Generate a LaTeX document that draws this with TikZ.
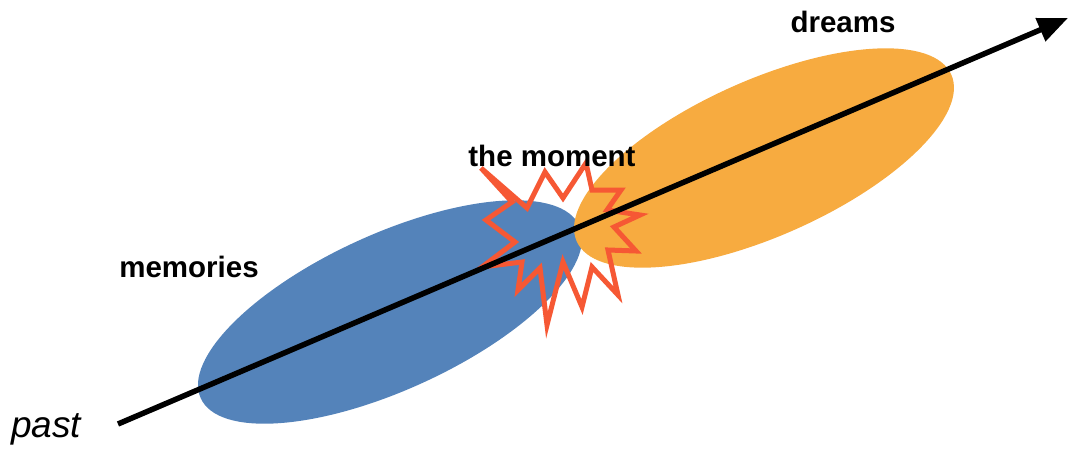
\documentclass[tikz,border=0pt]{standalone}
\usepackage{fontspec}
\newfontfamily\lab{Liberation Sans}
\usetikzlibrary{arrows.meta}
\definecolor{memblue}{RGB}{84,131,186}
\definecolor{dreamorange}{RGB}{247,171,64}
\definecolor{burst}{RGB}{246,88,52}
\tikzset{
  lbl/.style={font=\lab\bfseries\fontsize{29.5}{32}\selectfont, inner sep=0pt, anchor=center},
  timeline/.style={line width=5.5pt, -{Triangle[length=30pt,width=24pt]}},
  burstline/.style={draw=burst, line width=5pt, line join=miter, miter limit=10}
}
\begin{document}
\begin{tikzpicture}[x=1pt,y=-1pt]
\useasboundingbox (0,0) rectangle (1069,450);
% ellipses
\fill[memblue] (390,312) ellipse [x radius=208pt, y radius=78pt, rotate=24.5];
\fill[dreamorange] (764,158) ellipse [x radius=205pt, y radius=78pt, rotate=24];
% burst
\draw[burstline] (486,220) -- (512,202) -- (481,168) -- (527,208) -- (545,172)
  -- (563,198) -- (586,163) -- (592,190) -- (621,190) -- (607,210) -- (640,215)
  -- (614,227) -- (636,251) -- (608,250) -- (618,295) -- (592,267) -- (582,307)
  -- (563,262) -- (547,325) -- (540,268) -- (518,290) -- (522,262) -- (482,267)
  -- (515,242) -- cycle;
% timeline
\coordinate (start) at (118,424);
\coordinate (end) at (1068,18);
\draw[timeline] (start) -- (end);
% labels
\node[lbl] (dreams) at (843,22) {dreams};
\node[lbl] (moment) at (552,156) {the moment};
\node[lbl] (memories) at (189,267) {memories};
\node[font=\lab\itshape\fontsize{37}{40}\selectfont, inner sep=0pt] (past) at (46,429) {past};
\end{tikzpicture}
\end{document}
